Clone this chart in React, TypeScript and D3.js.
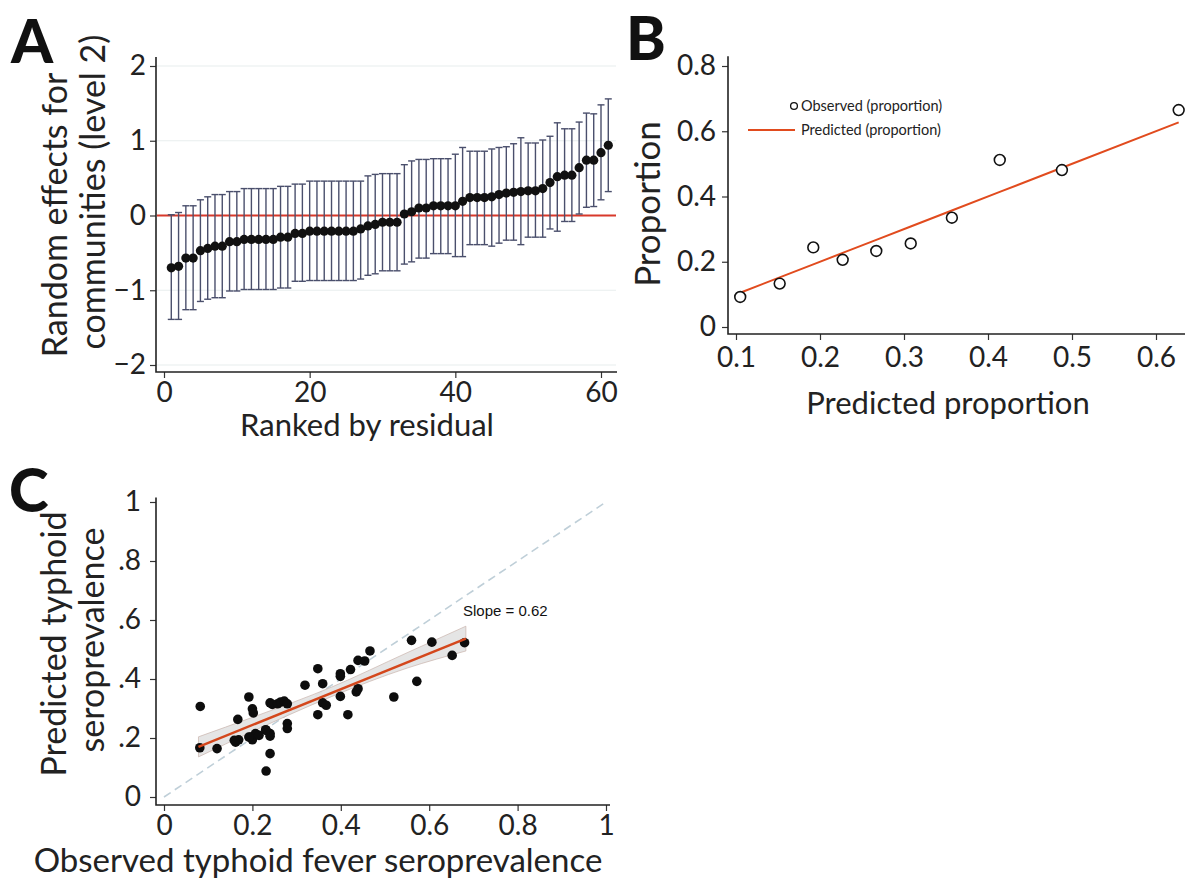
import React, { useEffect, useRef } from 'react';
import * as d3 from 'd3';

const FONT = 'Lato, "Open Sans", sans-serif';

// panel A - random effects per community, ranked
const effectEstimate = [
  -0.70, -0.68, -0.57, -0.57, -0.47, -0.44, -0.41, -0.41, -0.35, -0.35,
  -0.32, -0.32, -0.32, -0.32, -0.32, -0.29, -0.29, -0.24, -0.24, -0.21,
  -0.21, -0.21, -0.21, -0.21, -0.21, -0.21, -0.18, -0.14, -0.12, -0.09,
  -0.09, -0.09, 0.02, 0.05, 0.10, 0.10, 0.13, 0.13, 0.13, 0.13,
  0.19, 0.24, 0.24, 0.24, 0.25, 0.28, 0.30, 0.31, 0.32, 0.33,
  0.33, 0.36, 0.44, 0.52, 0.54, 0.54, 0.64, 0.74, 0.74, 0.84,
  0.94,
];
const effectLower = [
  -1.39, -1.39, -1.26, -1.26, -1.15, -1.12, -1.10, -1.10, -1.01, -1.01,
  -0.99, -0.99, -0.99, -0.99, -0.99, -0.97, -0.97, -0.88, -0.88, -0.87,
  -0.87, -0.87, -0.87, -0.87, -0.87, -0.87, -0.85, -0.80, -0.78, -0.74,
  -0.74, -0.74, -0.65, -0.62, -0.57, -0.57, -0.51, -0.51, -0.51, -0.55,
  -0.55, -0.39, -0.39, -0.39, -0.41, -0.37, -0.33, -0.33, -0.39, -0.29,
  -0.29, -0.29, -0.18, -0.21, -0.08, -0.08, 0.02, 0.11, 0.12, 0.21,
  0.32,
];
const effectUpper = [
  0.01, 0.04, 0.13, 0.13, 0.21, 0.25, 0.28, 0.28, 0.32, 0.32,
  0.36, 0.36, 0.36, 0.36, 0.36, 0.39, 0.39, 0.42, 0.42, 0.46,
  0.46, 0.46, 0.46, 0.46, 0.46, 0.46, 0.46, 0.53, 0.55, 0.56,
  0.56, 0.56, 0.68, 0.73, 0.75, 0.75, 0.76, 0.76, 0.76, 0.82,
  0.91, 0.86, 0.86, 0.86, 0.89, 0.91, 0.92, 0.96, 1.04, 0.97,
  0.97, 1.01, 1.06, 1.24, 1.16, 1.16, 1.25, 1.37, 1.36, 1.48,
  1.56,
];
const rankTicks = [0, 20, 40, 60];
const effectTicks = [-2, -1, 0, 1, 2];

// panel B - calibration by decile
const predictedProp = [0.105, 0.152, 0.192, 0.227, 0.267, 0.308, 0.357, 0.414, 0.488, 0.627];
const observedProp = [0.092, 0.133, 0.244, 0.206, 0.233, 0.256, 0.335, 0.512, 0.481, 0.665];
const propXTicks = [0.1, 0.2, 0.3, 0.4, 0.5, 0.6];
const propYTicks = [0, 0.2, 0.4, 0.6, 0.8];

// panel C - observed vs predicted seroprevalence
const observedSero = [
  0.082, 0.081, 0.120, 0.167, 0.162, 0.169, 0.192, 0.200, 0.202, 0.196,
  0.200, 0.207, 0.231, 0.231, 0.240, 0.240, 0.240, 0.240, 0.245, 0.257,
  0.264, 0.272, 0.279, 0.279, 0.279, 0.319, 0.348, 0.348, 0.359, 0.359,
  0.367, 0.399, 0.399, 0.399, 0.416, 0.422, 0.435, 0.439, 0.439, 0.454,
  0.466, 0.520, 0.560, 0.572, 0.606, 0.652, 0.680, 0.159, 0.192, 0.230,
  0.215,
];
const predictedSero = [
  0.307, 0.167, 0.164, 0.263, 0.186, 0.194, 0.339, 0.299, 0.285, 0.203,
  0.194, 0.215, 0.088, 0.226, 0.215, 0.206, 0.147, 0.319, 0.314, 0.316,
  0.322, 0.325, 0.316, 0.249, 0.232, 0.379, 0.435, 0.279, 0.384, 0.319,
  0.311, 0.418, 0.409, 0.341, 0.279, 0.432, 0.356, 0.367, 0.463, 0.461,
  0.495, 0.339, 0.531, 0.392, 0.525, 0.480, 0.523, 0.192, 0.203, 0.228,
  0.209,
];
const fitX = [0.078, 0.683];
const fitY = [0.170, 0.537];
const bandX = [0.078, 0.2, 0.38, 0.55, 0.683];
const bandLow = [0.136, 0.222, 0.341, 0.437, 0.495];
const bandHigh = [0.204, 0.270, 0.373, 0.489, 0.579];
const seroTicks = [0, 0.2, 0.4, 0.6, 0.8, 1];
const seroYLabels = ['0', '.2', '.4', '.6', '.8', '1'];
const seroXLabels = ['0', '0.2', '0.4', '0.6', '0.8', '1'];

const styleAxis = (a, size = 28) => {
  a.select('.domain').remove();
  a.selectAll('line').attr('stroke', '#333').attr('stroke-width', 1.2);
  a.selectAll('text').attr('font-size', size).attr('font-family', FONT).attr('fill', '#222');
};

const label = (g, text, size, transform) =>
  g.append('text').attr('transform', transform).attr('text-anchor', 'middle')
    .attr('font-family', FONT).attr('font-size', size).attr('fill', '#222')
    .text(text);

const drawA = (svg) => {
  const x = d3.scaleLinear().domain([0, 60]).range([164, 601]);
  const y = d3.scaleLinear().domain([-2, 2]).range([365, 66]);
  const g = svg.append('g');

  g.selectAll('.grid').data([-2, -1, 1, 2]).join('line')
    .attr('x1', 157).attr('x2', 616)
    .attr('y1', d => y(d)).attr('y2', d => y(d))
    .attr('stroke', '#e8eeee').attr('stroke-width', 1.2);

  g.append('line')
    .attr('x1', 157).attr('x2', 616).attr('y1', y(0)).attr('y2', y(0))
    .attr('stroke', '#d8392b').attr('stroke-width', 2);

  const idx = d3.range(effectEstimate.length);
  const bars = g.append('g').attr('stroke', '#4a4f6c').attr('stroke-width', 1.4);
  bars.selectAll('.v').data(idx).join('line')
    .attr('x1', i => x(i + 1)).attr('x2', i => x(i + 1))
    .attr('y1', i => y(effectLower[i])).attr('y2', i => y(effectUpper[i]));
  bars.selectAll('.lo').data(idx).join('line')
    .attr('x1', i => x(i + 1) - 3.5).attr('x2', i => x(i + 1) + 3.5)
    .attr('y1', i => y(effectLower[i])).attr('y2', i => y(effectLower[i]));
  bars.selectAll('.hi').data(idx).join('line')
    .attr('x1', i => x(i + 1) - 3.5).attr('x2', i => x(i + 1) + 3.5)
    .attr('y1', i => y(effectUpper[i])).attr('y2', i => y(effectUpper[i]));

  g.selectAll('.pt').data(idx).join('circle')
    .attr('cx', i => x(i + 1)).attr('cy', i => y(effectEstimate[i]))
    .attr('r', 4.6).attr('fill', '#111');

  g.append('g').attr('transform', 'translate(156,0)')
    .call(d3.axisLeft(y).tickValues(effectTicks).tickSize(6).tickPadding(4)
      .tickFormat(d => (d < 0 ? `\u2212${-d}` : `${d}`)))
    .call(styleAxis);
  g.append('g').attr('transform', 'translate(0,372)')
    .call(d3.axisBottom(x).tickValues(rankTicks).tickSize(6).tickPadding(4))
    .call(styleAxis);

  g.append('path').attr('d', `M156,${y(2.12)}V372H617`)
    .attr('fill', 'none').attr('stroke', '#222').attr('stroke-width', 1.6);

  label(g, 'Ranked by residual', 31, 'translate(367,436)');
  label(g, 'Random effects for', 34, 'translate(67,215) rotate(-90)');
  label(g, 'communities (level 2)', 34, 'translate(105,192) rotate(-90)');
  g.append('text').attr('x', 11).attr('y', 63)
    .attr('font-family', FONT).attr('font-weight', 900).attr('font-size', 60).attr('fill', '#111')
    .text('A');
};

const drawB = (svg) => {
  const x = d3.scaleLinear().domain([0.1, 0.6]).range([736, 1156]);
  const y = d3.scaleLinear().domain([0, 0.8]).range([327, 66]);
  const g = svg.append('g');

  const line = d3.line().x(d => x(d[0])).y(d => y(d[1]));
  const predLine = predictedProp.map(p => [p, p]);
  g.append('path').attr('d', line(predLine))
    .attr('fill', 'none').attr('stroke', '#e14b1e').attr('stroke-width', 2);

  g.selectAll('.obs').data(predictedProp).join('circle')
    .attr('cx', d => x(d)).attr('cy', (d, i) => y(observedProp[i]))
    .attr('r', 5.4).attr('fill', '#fff').attr('stroke', '#111').attr('stroke-width', 1.6);

  g.append('g').attr('transform', 'translate(728,0)')
    .call(d3.axisLeft(y).tickValues(propYTicks).tickSize(6).tickPadding(6)
      .tickFormat(d => (d === 0 ? '0' : d3.format('.1f')(d))))
    .call(styleAxis);
  g.append('g').attr('transform', 'translate(0,334)')
    .call(d3.axisBottom(x).tickValues(propXTicks).tickSize(6).tickPadding(7).tickFormat(d3.format('.1f')))
    .call(styleAxis);
  g.append('path').attr('d', `M728,${y(0.83)}V334H1185`)
    .attr('fill', 'none').attr('stroke', '#222').attr('stroke-width', 1.6);

  // legend
  g.append('circle').attr('cx', 794).attr('cy', 106).attr('r', 3.4)
    .attr('fill', '#fff').attr('stroke', '#111').attr('stroke-width', 1.3);
  g.append('line').attr('x1', 748).attr('x2', 795).attr('y1', 130).attr('y2', 130)
    .attr('stroke', '#e14b1e').attr('stroke-width', 2);
  g.append('text').attr('x', 801).attr('y', 111)
    .attr('font-family', FONT).attr('font-size', 14.5).attr('fill', '#222')
    .text('Observed (proportion)');
  g.append('text').attr('x', 801).attr('y', 135)
    .attr('font-family', FONT).attr('font-size', 14.5).attr('fill', '#222')
    .text('Predicted (proportion)');

  label(g, 'Predicted proportion', 31, 'translate(948,414)');
  label(g, 'Proportion', 35, 'translate(660,204) rotate(-90)');
  g.append('text').attr('x', 626).attr('y', 60)
    .attr('font-family', FONT).attr('font-weight', 900).attr('font-size', 60).attr('fill', '#111')
    .text('B');
};

const drawC = (svg) => {
  const x = d3.scaleLinear().domain([0, 1]).range([164, 606]);
  const y = d3.scaleLinear().domain([0, 1]).range([797, 502]);
  const g = svg.append('g');

  g.append('line')
    .attr('x1', x(0)).attr('y1', y(0)).attr('x2', x(1)).attr('y2', y(1))
    .attr('stroke', '#bfcfd8').attr('stroke-width', 1.6).attr('stroke-dasharray', '8,5');

  const band = d3.area()
    .x((d, i) => x(bandX[i]))
    .y0((d, i) => y(bandLow[i]))
    .y1((d, i) => y(bandHigh[i]))
    .curve(d3.curveMonotoneX);
  g.append('path').attr('d', band(bandX) + 'Z')
    .attr('fill', '#e2e2e2').attr('fill-opacity', 0.9)
    .attr('stroke', '#c9b3ac').attr('stroke-width', 0.7);

  g.selectAll('.pt').data(observedSero).join('circle')
    .attr('cx', d => x(d)).attr('cy', (d, i) => y(predictedSero[i]))
    .attr('r', 4.8).attr('fill', '#0d0d0d');

  g.append('line')
    .attr('x1', x(fitX[0])).attr('y1', y(fitY[0])).attr('x2', x(fitX[1])).attr('y2', y(fitY[1]))
    .attr('stroke', '#d4471c').attr('stroke-width', 2.4);

  g.append('text').attr('x', 463).attr('y', 616)
    .attr('font-family', '"Liberation Sans", Arial, sans-serif').attr('font-size', 15).attr('fill', '#111')
    .text('Slope = 0.62');

  g.append('g').attr('transform', 'translate(156,0)')
    .call(d3.axisLeft(y).tickValues(seroTicks).tickSize(6).tickPadding(9)
      .tickFormat((d, i) => seroYLabels[i]))
    .call(styleAxis);
  g.append('g').attr('transform', 'translate(0,805)')
    .call(d3.axisBottom(x).tickValues(seroTicks).tickSize(6).tickPadding(4)
      .tickFormat((d, i) => seroXLabels[i]))
    .call(styleAxis);
  g.append('path').attr('d', `M156,${y(1.015)}V805H610`)
    .attr('fill', 'none').attr('stroke', '#222').attr('stroke-width', 1.6);

  label(g, 'Observed typhoid fever seroprevalence', 33, 'translate(318,872)');
  label(g, 'Predicted typhoid', 34, 'translate(66,644) rotate(-90)');
  label(g, 'seroprevalence', 34, 'translate(104,640) rotate(-90)');
  g.append('text').attr('x', 9).attr('y', 512)
    .attr('font-family', FONT).attr('font-weight', 900).attr('font-size', 60).attr('fill', '#111')
    .text('C');
};

export default function App() {
  const ref = useRef(null);

  useEffect(() => {
    const svg = d3.select(ref.current);
    svg.selectAll('*').remove();
    drawA(svg);
    drawB(svg);
    drawC(svg);
  }, []);

  return (
    <svg ref={ref} width={1185} height={880}
      style={{ position: 'absolute', left: 0, top: 0, background: '#fff' }} />
  );
}
